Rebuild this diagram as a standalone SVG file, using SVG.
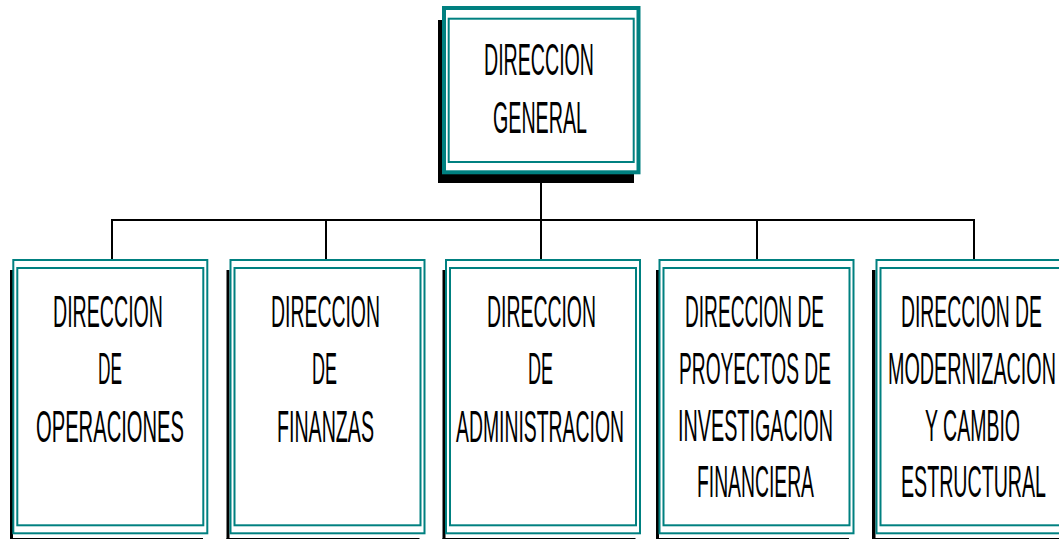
<svg xmlns="http://www.w3.org/2000/svg" width="1059" height="539" viewBox="0 0 1059 539">
<style>
.o{fill:#fff;stroke:#008080;stroke-width:2}
.ot{fill:#fff;stroke:#008080;stroke-width:4}
.i{fill:none;stroke:#008080;stroke-width:2}
.sh{fill:#000}
.t{font-family:"Liberation Sans",Arial,sans-serif;font-size:44px;fill:#000}
.c{fill:none;stroke:#000;stroke-width:2}
</style>
<g id="connectors">
<path class="c" d="M541,174V220M112,220H974M112,219V260M326,219V260M541,219V260M757,219V260M974,219V260"/>
</g>
<g id="n0">
<rect class="sh" x="438" y="20" width="196" height="163"/>
<rect class="ot" x="444" y="8" width="194.5" height="164.3"/>
<rect class="i" x="448.7" y="18.7" width="185" height="143.3"/>
<text class="t" x="484" y="75" textLength="110" lengthAdjust="spacingAndGlyphs">DIRECCION</text>
<text class="t" x="493" y="133" textLength="94" lengthAdjust="spacingAndGlyphs">GENERAL</text>
</g>
<g id="n1">
<rect class="sh" x="10" y="270" width="3" height="269"/>
<rect class="sh" x="10" y="538" width="193" height="1"/>
<rect class="o" x="13.3" y="260" width="194" height="273.3"/>
<rect class="i" x="17.3" y="268" width="186" height="257.3"/>
<text class="t" x="53" y="327" textLength="110" lengthAdjust="spacingAndGlyphs">DIRECCION</text>
<text class="t" x="98" y="384" textLength="24" lengthAdjust="spacingAndGlyphs">DE</text>
<text class="t" x="36" y="442" textLength="148" lengthAdjust="spacingAndGlyphs">OPERACIONES</text>
</g>
<g id="n2">
<rect class="sh" x="226.5" y="270" width="3" height="269"/>
<rect class="sh" x="226.5" y="538" width="193" height="1"/>
<rect class="o" x="230.5" y="260" width="194" height="273.3"/>
<rect class="i" x="234.5" y="268" width="186" height="257.3"/>
<text class="t" x="271" y="327" textLength="109" lengthAdjust="spacingAndGlyphs">DIRECCION</text>
<text class="t" x="312" y="384" textLength="25" lengthAdjust="spacingAndGlyphs">DE</text>
<text class="t" x="277" y="442" textLength="97" lengthAdjust="spacingAndGlyphs">FINANZAS</text>
</g>
<g id="n3">
<rect class="sh" x="442.5" y="270" width="3" height="269"/>
<rect class="sh" x="442.5" y="538" width="193" height="1"/>
<rect class="o" x="446" y="260" width="194" height="273.3"/>
<rect class="i" x="450" y="268" width="186" height="257.3"/>
<text class="t" x="487" y="327" textLength="109" lengthAdjust="spacingAndGlyphs">DIRECCION</text>
<text class="t" x="528" y="384" textLength="25" lengthAdjust="spacingAndGlyphs">DE</text>
<text class="t" x="456" y="442" textLength="168" lengthAdjust="spacingAndGlyphs">ADMINISTRACION</text>
</g>
<g id="n4">
<rect class="sh" x="656" y="270" width="3" height="269"/>
<rect class="sh" x="656" y="538" width="193" height="1"/>
<rect class="o" x="659.5" y="260" width="194" height="273.3"/>
<rect class="i" x="663.5" y="268" width="186" height="257.3"/>
<text class="t" x="685" y="327" textLength="139" lengthAdjust="spacingAndGlyphs">DIRECCION DE</text>
<text class="t" x="679" y="384" textLength="152" lengthAdjust="spacingAndGlyphs">PROYECTOS DE</text>
<text class="t" x="678" y="441" textLength="155" lengthAdjust="spacingAndGlyphs">INVESTIGACION</text>
<text class="t" x="697" y="497" textLength="117" lengthAdjust="spacingAndGlyphs">FINANCIERA</text>
</g>
<g id="n5">
<rect class="sh" x="872" y="270" width="3.5" height="269"/>
<rect class="sh" x="872" y="538" width="187" height="1"/>
<rect class="o" x="876.5" y="260" width="194" height="273.3"/>
<rect class="i" x="880.5" y="268" width="186" height="257.3"/>
<text class="t" x="901" y="327" textLength="141" lengthAdjust="spacingAndGlyphs">DIRECCION DE</text>
<text class="t" x="888" y="384" textLength="168" lengthAdjust="spacingAndGlyphs">MODERNIZACION</text>
<text class="t" x="925" y="441" textLength="95" lengthAdjust="spacingAndGlyphs">Y CAMBIO</text>
<text class="t" x="901" y="497" textLength="145" lengthAdjust="spacingAndGlyphs">ESTRUCTURAL</text>
</g>
</svg>
